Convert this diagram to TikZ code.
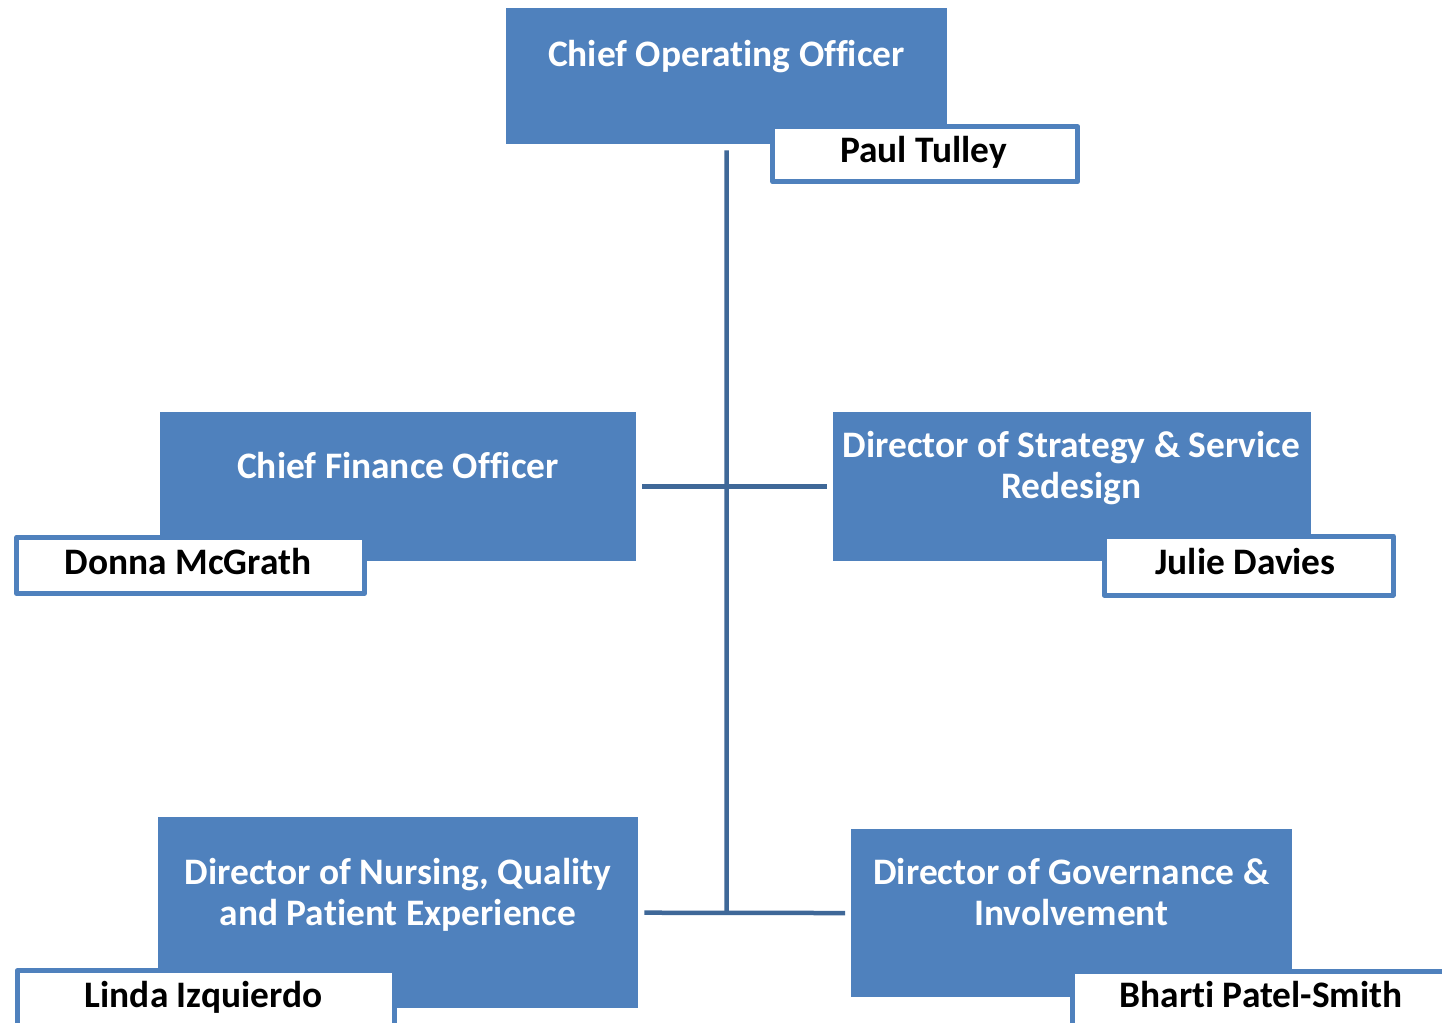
\documentclass[tikz,border=0pt]{standalone}
\usepackage{fontspec}
\setmainfont{Carlito}[Ligatures=NoCommon]
\definecolor{boxblue}{HTML}{4F81BD}
\definecolor{lineblue}{HTML}{3F6898}
\tikzset{
  rolebox/.style={draw=none, fill=boxblue, anchor=north west, inner sep=0pt},
  roletext/.style={text=white, font=\fontsize{37.4}{41}\selectfont\bfseries, align=center, inner sep=0pt, anchor=base},
  namebox/.style={draw=boxblue, line width=5pt, line join=round, fill=white, anchor=north west, inner sep=0pt},
  nametext/.style={text=black, font=\fontsize{37.4}{41}\selectfont\bfseries, inner sep=0pt, anchor=base},
  link/.style={draw=lineblue, line width=4.5pt, shorten <=6pt, shorten >=6pt},
}
\begin{document}
\begin{tikzpicture}[x=1pt, y=-1pt]
\clip (0,0) rectangle (1442,1022);
\fill[white] (0,0) rectangle (1442,1022);

\coordinate (jn) at (726.5,912.5);

% role boxes
\node[rolebox, minimum width=441pt, minimum height=136pt] (coo) at (506,8) {};
\node[rolebox, minimum width=476pt, minimum height=148.7pt] (cfo) at (160,412) {};
\node[rolebox, minimum width=477.7pt, minimum height=148.7pt] (dss) at (833,412) {};
\node[rolebox, minimum width=480pt, minimum height=191pt] (dnq) at (158,817) {};
\node[rolebox, minimum width=441pt, minimum height=167.7pt] (dgi) at (851,829) {};

% connectors
\draw[link, shorten >=0pt] (coo.south) -- (jn);
\draw[link] (cfo.east) -- (dss.west);
\draw[link] (dnq.east) -- (dgi.west);

% role titles (base = baseline of last line)
\node[roletext] (cooT) at (726.5,67) {Chief Operating Officer};
\node[roletext] (cfoT) at (398,478) {Chief Finance Officer};
\node[roletext] (dssT) at (1071.5,498) {Director of Strategy \& Service\\Redesign};
\node[roletext] (dnqT) at (398,925) {Director of Nursing, Quality\\and Patient Experience};
\node[roletext] (dgiT) at (1071.5,925) {Director of Governance \&\\Involvement};

% name boxes
\node[namebox, minimum width=305pt, minimum height=55pt] (paul) at (770.2,124.2) {};
\node[nametext] (paulT) at (923.5,162) {Paul Tulley};
\node[namebox, minimum width=347.6pt, minimum height=56.2pt] (donna) at (14.2,534.8) {};
\node[nametext] (donnaT) at (188,574.5) {Donna McGrath};
\node[namebox, minimum width=289.3pt, minimum height=59pt] (julie) at (1101.5,533.5) {};
\node[nametext] (julieT) at (1245.5,574.5) {Julie Davies};
\node[namebox, minimum width=377.4pt, minimum height=60pt] (linda) at (14.8,968.2) {};
\node[nametext] (lindaT) at (203.5,1007) {Linda Izquierdo};
\node[namebox, minimum width=380pt, minimum height=60pt] (bharti) at (1069.5,969.2) {};
\node[nametext] (bhartiT) at (1261,1007.5) {Bharti Patel-Smith};
\end{tikzpicture}
\end{document}
